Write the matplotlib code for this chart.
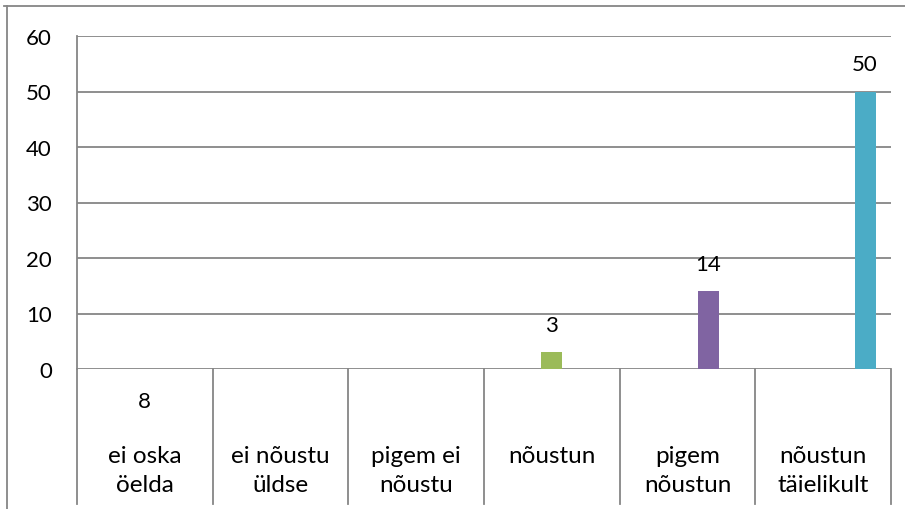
import numpy as np
import matplotlib.pyplot as plt
from matplotlib.lines import Line2D
import matplotlib.transforms as mtransforms

plt.rcParams['font.family'] = ['Lato', 'DejaVu Sans']

# data
categories = ['ei oska\nöelda', 'ei nõustu\nüldse', 'pigem ei\nnõustu',
              'nõustun', 'pigem\nnõustun', 'nõustun\ntäielikult']
values = [0, 0, 0, 3, 14, 50]
labels = ['', '', '', '3', '14', '50']
table_values = ['8', '', '', '', '', '']
colors = ['#4F81BD', '#C0504D', '#9BBB59', '#9BBB59', '#8064A2', '#4BACC6']
yticks = [0, 10, 20, 30, 40, 50, 60]

W, H = 905, 510
fig = plt.figure(figsize=(W / 100, H / 100), dpi=100)
ax = fig.add_axes([77 / W, (H - 370) / H, (891 - 77) / W, (370 - 37) / H])

grid_c = '#868686'
num_fs = 16
cat_fs = 17.5
bw = 21 / 135.7
x = np.arange(len(categories)) + 0.5
for i, (v, lab) in enumerate(zip(values, labels)):
    if v <= 0:
        continue
    xi = x[i] + (i - 3) * bw
    ax.bar(xi, v, width=bw, color=colors[i], zorder=3)
    ax.annotate(lab, (xi, v), xytext=(0, 19.5), textcoords='offset points',
                ha='center', va='center', fontsize=num_fs, color='black')

ax.set_xlim(0, len(categories))
ax.set_ylim(0, 60)
ax.set_yticks(yticks)
ax.set_yticklabels([str(t) for t in yticks], fontsize=num_fs)
ax.tick_params(axis='y', length=0, pad=18)
ax.set_xticks([])
for t in yticks:
    ax.axhline(t, color=grid_c, lw=1.3, zorder=1)
for s in ['top', 'right', 'bottom']:
    ax.spines[s].set_visible(False)
ax.spines['left'].set_color(grid_c)
ax.spines['left'].set_linewidth(1.3)

# table below the axis
bottom = -(505 - 370) / (370 - 37)
trans = mtransforms.blended_transform_factory(ax.transData, ax.transAxes)
for k in range(len(categories) + 1):
    ax.plot([k, k], [0, bottom], color=grid_c, lw=1.3, transform=trans,
            clip_on=False)
for i, cat in enumerate(categories):
    ax.text(x[i], -(446 - 370) / 333, cat, transform=trans, ha='center',
            va='top', fontsize=cat_fs, linespacing=1.45)
    if table_values[i]:
        ax.text(x[i], -(402 - 370) / 333, table_values[i], transform=trans,
                ha='center', va='center', fontsize=num_fs)

# outer frame
fig.add_artist(Line2D([4 / W, 1], [1 - 7 / H, 1 - 7 / H], color=grid_c, lw=1.3))
fig.add_artist(Line2D([7 / W, 7 / W], [0, 1 - 7 / H], color=grid_c, lw=1.3))

fig.savefig('out.png', dpi=100, facecolor='white')
